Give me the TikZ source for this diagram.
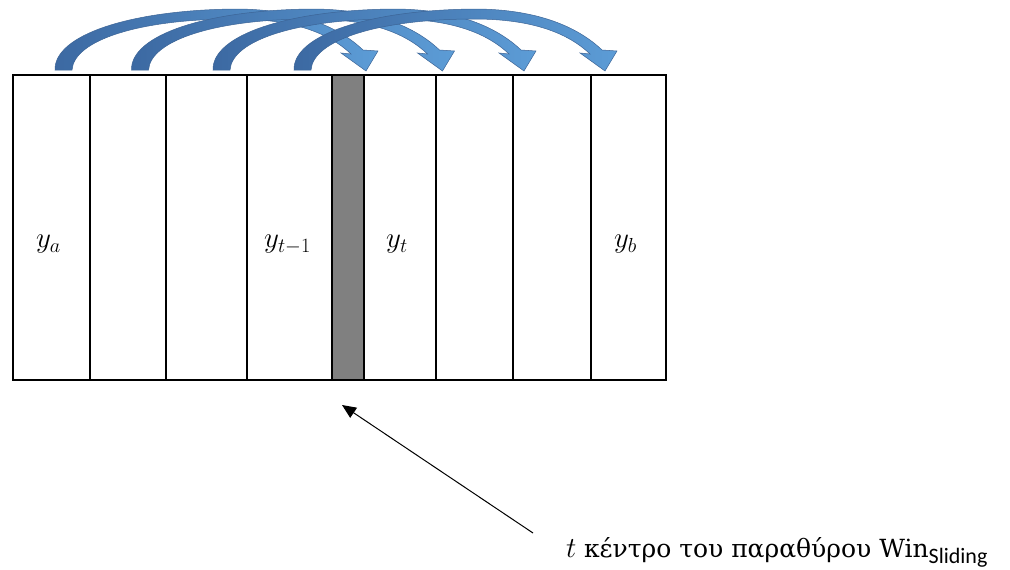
\RequirePackage{fix-cm}
\documentclass[tikz,border=0pt]{standalone}
\usepackage{fontspec}
\newfontfamily\grkfont{DejaVu Serif}
\newfontfamily\subfont{Carlito}
\usetikzlibrary{arrows.meta,calc}
\definecolor{arrdark}{RGB}{60,105,162}
\definecolor{arrlight}{RGB}{92,156,214}
\definecolor{arredge}{RGB}{60,100,150}
\definecolor{cellgray}{RGB}{128,128,128}
\tikzset{
  cellbox/.style={draw=black, line width=1.6pt, minimum height=305pt, anchor=north west, inner sep=0pt, outer sep=0pt},
  lbl/.style={font=\fontsize{29}{33}\selectfont, inner sep=0pt},
  bendarrow/.style={left color=arrdark, right color=arrlight, draw=arredge, line width=0.5pt},
  pointer/.style={line width=1pt, -{Triangle[length=14pt,width=12pt]}},
}
\begin{document}
\begin{tikzpicture}[x=1pt,y=-1pt]
\useasboundingbox (0,0) rectangle (1010,570);
% curved arrows
\foreach \s in {0,76.5,158,239}{
\begin{scope}[shift={(\s,0)}]
\path[bendarrow] (55,70) .. controls (54,35) and (130,10) .. (235,9)
  .. controls (300,9) and (340,28) .. (363,50)
  -- (378,51) -- (366,71) -- (341,53) -- (351,54)
  .. controls (330,34) and (295,19) .. (235,19)
  .. controls (140,19) and (74,40) .. (72,70) -- cycle;
\end{scope}}
% cells
\node[cellbox, minimum width=77pt] (c1) at (13,75) {};
\node[cellbox, minimum width=76pt] (c2) at (90,75) {};
\node[cellbox, minimum width=81pt] (c3) at (166,75) {};
\node[cellbox, minimum width=85pt] (c4) at (247,75) {};
\node[cellbox, minimum width=32pt, fill=cellgray] (c5) at (332,75) {};
\node[cellbox, minimum width=72pt] (c6) at (364,75) {};
\node[cellbox, minimum width=77pt] (c7) at (436,75) {};
\node[cellbox, minimum width=78pt] (c8) at (513,75) {};
\node[cellbox, minimum width=75pt] (c9) at (591,75) {};
% labels
\node[lbl] (la) at ($(c1.center)+(-3,17)$) {$y_a$};
\node[lbl] (lt1) at ($(c4.center)+(-2,17)$) {$y_{t-1}$};
\node[lbl] (lt) at ($(c6.center)+(-3,17)$) {$y_t$};
\node[lbl] (lb) at ($(c9.center)+(-3,17)$) {$y_b$};
% bottom text and pointer
\node[anchor=base west, inner sep=0pt, font=\fontsize{25}{29}\selectfont] (txt) at (566,557)
  {\fontsize{29}{32}\selectfont$t$\fontsize{25}{29}\selectfont\ \grkfont κέντρο του παραθύρου Win\raisebox{-6pt}{\subfont\fontsize{22}{24}\selectfont Sliding}};
\coordinate (pstart) at (533,533);
\coordinate (ptip) at ($(c5.south)+(-6,25)$);
\draw[pointer] (pstart) -- (ptip);
\end{tikzpicture}
\end{document}
